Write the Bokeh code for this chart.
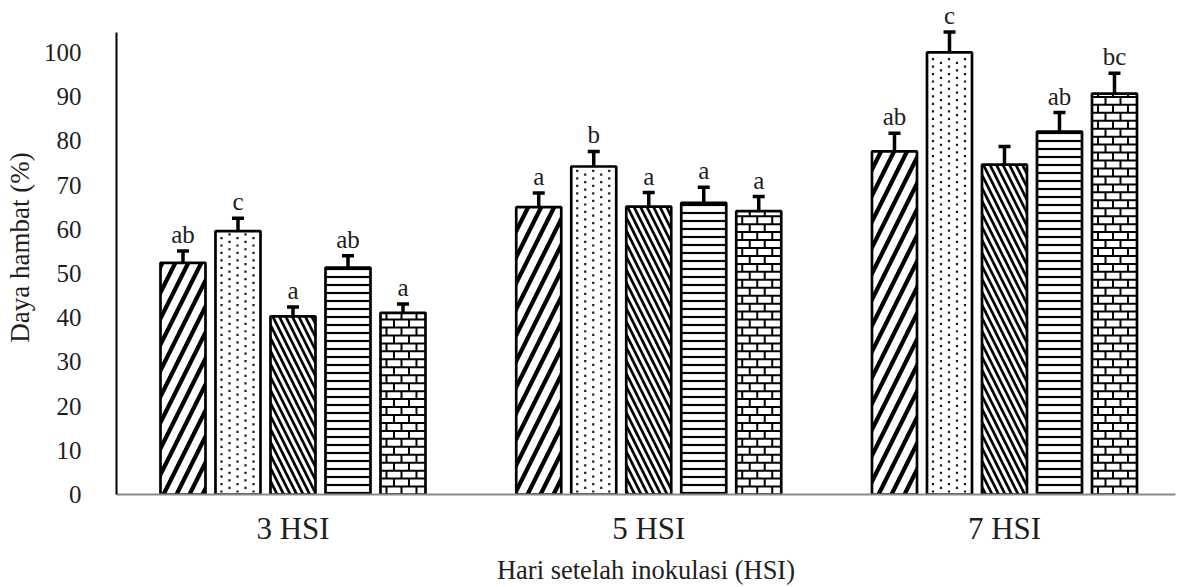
from bokeh.plotting import figure
from bokeh.models import ColumnDataSource, Range1d, FixedTicker, Whisker, TeeHead
from bokeh.core.properties import value
from bokeh.embed import file_html
from bokeh.resources import INLINE

# ---- data ----
categories = ["3 HSI", "5 HSI", "7 HSI"]
t1 = [52.4, 65.0, 77.6]
t2 = [59.6, 74.2, 100.0]
t3 = [40.3, 65.1, 74.6]
t4 = [51.3, 66.0, 82.1]
t5 = [41.1, 64.1, 90.7]
e1 = [2.7, 3.2, 4.1]
e2 = [2.9, 3.4, 4.6]
e3 = [2.1, 3.2, 4.1]
e4 = [2.7, 3.5, 4.3]
e5 = [2.0, 3.3, 4.6]
l1 = ["ab", "a", "ab"]
l2 = ["c", "b", "c"]
l3 = ["a", "a", ""]
l4 = ["ab", "a", "ab"]
l5 = ["a", "a", "bc"]
y_ticks = list(range(0, 101, 10))

series = [t1, t2, t3, t4, t5]
errors = [e1, e2, e3, e4, e5]
letters = [l1, l2, l3, l4, l5]

FONT = "Liberation Serif"
TXT = "#1e1e1e"

# ---- layout ----
W, H = 1178, 587
BL, BR, BT, BB = 116, 3, 0, 90
X0, X1 = -0.4961, 2.4807
Y0, Y1 = 0, 111.75
Y_AXIS_TOP = 104.5
PX_X = (W - BL - BR) / (X1 - X0)
PX_Y = (H - BT - BB) / (Y1 - Y0)
pitch = 55 / PX_X
bar_w = 45 / PX_X

p = figure(width=W, height=H, output_backend="svg", toolbar_location=None,
           x_range=Range1d(X0, X1), y_range=Range1d(Y0, Y1),
           min_border_left=BL, min_border_right=BR, min_border_top=BT, min_border_bottom=BB)
p.background_fill_color = "white"
p.border_fill_color = "white"
p.outline_line_color = None
p.grid.grid_line_color = None


def dot_points(cx, top):
    xs, ys = [], []
    left = cx - bar_w / 2
    for c in range(5):
        x = left + (6 + 8 * c) / PX_X
        y = (3 + (c % 2) * 3.75) / PX_Y
        while y < top - 3 / PX_Y:
            xs.append(x)
            ys.append(y)
            y += 7.5 / PX_Y
    return xs, ys


def brick_segments(cx, top):
    left = cx - bar_w / 2
    right = cx + bar_w / 2
    dy = 8 / PX_Y
    x0, y0, x1, y1 = [], [], [], []
    k = 1
    while k * dy < top - 1.5 / PX_Y:
        x0.append(left); x1.append(right); y0.append(k * dy); y1.append(k * dy)
        k += 1
    for r in range(k):
        yb = r * dy
        yt = min((r + 1) * dy, top)
        off = 6 if r % 2 == 0 else 13.5
        while off < 43:
            xx = left + off / PX_X
            x0.append(xx); x1.append(xx); y0.append(yb); y1.append(yt)
            off += 15
    return x0, y0, x1, y1


hatches = [
    dict(hatch_pattern="/", hatch_scale=26, hatch_weight=4.2),
    None,
    dict(hatch_pattern="\\", hatch_scale=13, hatch_weight=2.7),
    dict(hatch_pattern="-", hatch_scale=8, hatch_weight=2.2),
    None,
]

for j, (vals, errs, labs, h) in enumerate(zip(series, errors, letters, hatches)):
    xs = [i + (j - 2) * pitch for i in range(len(categories))]
    src = ColumnDataSource(dict(
        x=xs, top=vals,
        upper=[v + e for v, e in zip(vals, errs)],
        lower=[v - e for v, e in zip(vals, errs)],
        lab=labs))
    if h is not None:
        p.vbar(x="x", top="top", width=bar_w, bottom=0, source=src,
               fill_color="white", line_color="black", line_width=2.7,
               hatch_color="black", **h)
    else:
        p.vbar(x="x", top="top", width=bar_w, bottom=0, source=src,
               fill_color="white", line_color=None)
        if j == 1:
            dx, dy_ = [], []
            for cx, tp in zip(xs, vals):
                a, b = dot_points(cx, tp)
                dx += a; dy_ += b
            p.scatter(dx, dy_, marker="square", size=2.2, color="#1a1a1a", line_color=None)
        else:
            sx0, sy0, sx1, sy1 = [], [], [], []
            for cx, tp in zip(xs, vals):
                a, b, c, d = brick_segments(cx, tp)
                sx0 += a; sy0 += b; sx1 += c; sy1 += d
            p.segment(sx0, sy0, sx1, sy1, line_color="black", line_width=2)
        p.vbar(x="x", top="top", width=bar_w, bottom=0, source=src,
               fill_color=None, line_color="black", line_width=2.7)
    p.add_layout(Whisker(base="x", upper="upper", lower="lower", source=src,
                         line_color="black", line_width=3.5,
                         upper_head=TeeHead(size=12, line_width=3.5, line_color="black"),
                         lower_head=TeeHead(size=12, line_width=3.5, line_color="black")))
    p.text(x="x", y="upper", text="lab", source=src, text_align="center",
           text_baseline="bottom", y_offset=-3, text_font=value(FONT),
           text_font_size="25px", text_color=TXT)

# axes
p.xaxis.ticker = FixedTicker(ticks=list(range(len(categories))))
p.xaxis.major_label_overrides = {i: c for i, c in enumerate(categories)}
p.xaxis.axis_line_color = "#8a8a8a"
p.xaxis.axis_line_width = 2
p.xaxis.major_tick_line_color = None
p.xaxis.minor_tick_line_color = None
p.xaxis.major_tick_out = 0
p.xaxis.major_tick_in = 0
p.xaxis.major_label_text_font = FONT
p.xaxis.major_label_text_font_size = "31px"
p.xaxis.major_label_text_color = TXT
p.xaxis.major_label_standoff = 16
p.xaxis.axis_label = "Hari setelah inokulasi (HSI)"
p.xaxis.axis_label_text_font = FONT
p.xaxis.axis_label_text_font_size = "26.5px"
p.xaxis.axis_label_text_font_style = "normal"
p.xaxis.axis_label_text_color = TXT
p.xaxis.axis_label_standoff = 6

p.yaxis.ticker = FixedTicker(ticks=y_ticks)
p.yaxis.bounds = (0, Y_AXIS_TOP)
p.yaxis.axis_line_color = "black"
p.yaxis.axis_line_width = 2
p.yaxis.major_tick_line_color = None
p.yaxis.minor_tick_line_color = None
p.yaxis.major_tick_out = 0
p.yaxis.major_tick_in = 0
p.yaxis.major_label_text_font = FONT
p.yaxis.major_label_text_font_size = "25px"
p.yaxis.major_label_text_color = TXT
p.yaxis.major_label_standoff = 35
p.yaxis.axis_label = "Daya hambat (%)"
p.yaxis.axis_label_text_font = FONT
p.yaxis.axis_label_text_font_size = "27px"
p.yaxis.axis_label_text_font_style = "normal"
p.yaxis.axis_label_text_color = TXT
p.yaxis.axis_label_standoff = 6

open("out.html", "w").write(file_html(p, INLINE))
